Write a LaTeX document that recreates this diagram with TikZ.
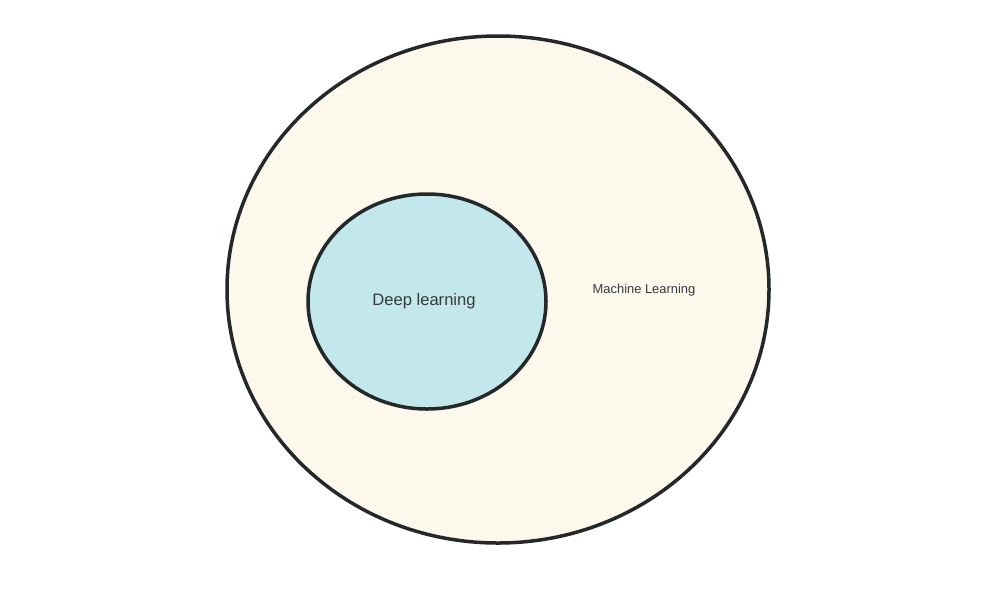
\documentclass[tikz,border=0pt]{standalone}
\usepackage{fontspec}
\setmainfont{Liberation Sans}
\usepackage{tikz}
\usetikzlibrary{shapes.geometric}
\definecolor{CreamFill}{HTML}{FCF8EB}
\definecolor{IceBlue}{HTML}{C3E8EC}
\definecolor{InkGrey}{HTML}{24282B}
\definecolor{TextGrey}{HTML}{353A3F}

\tikzset{
  setbox/.style={ellipse, draw=InkGrey, line width=3.5pt, inner sep=0pt},
  setlabel/.style={text=TextGrey, inner sep=0pt}
}

\begin{document}
\begin{tikzpicture}[x=1pt, y=-1pt]
      \useasboundingbox (0,0) rectangle (998,598);
      % outer set
      \node[setbox, fill=CreamFill, minimum width=542pt, minimum height=507pt]
        (machine) at (498,289.5) {};
      % inner set
      \node[setbox, fill=IceBlue, minimum width=238pt, minimum height=215pt]
        (deep) at (427,301.5) {};
      \node[setlabel, font=\fontsize{16.6}{20}\selectfont] (deeplabel) at (424,301) {Deep learning};
      \node[setlabel, font=\fontsize{12.9}{15}\selectfont] (machinelabel) at (644,290.5) {Machine Learning};
    \end{tikzpicture}
\end{document}
